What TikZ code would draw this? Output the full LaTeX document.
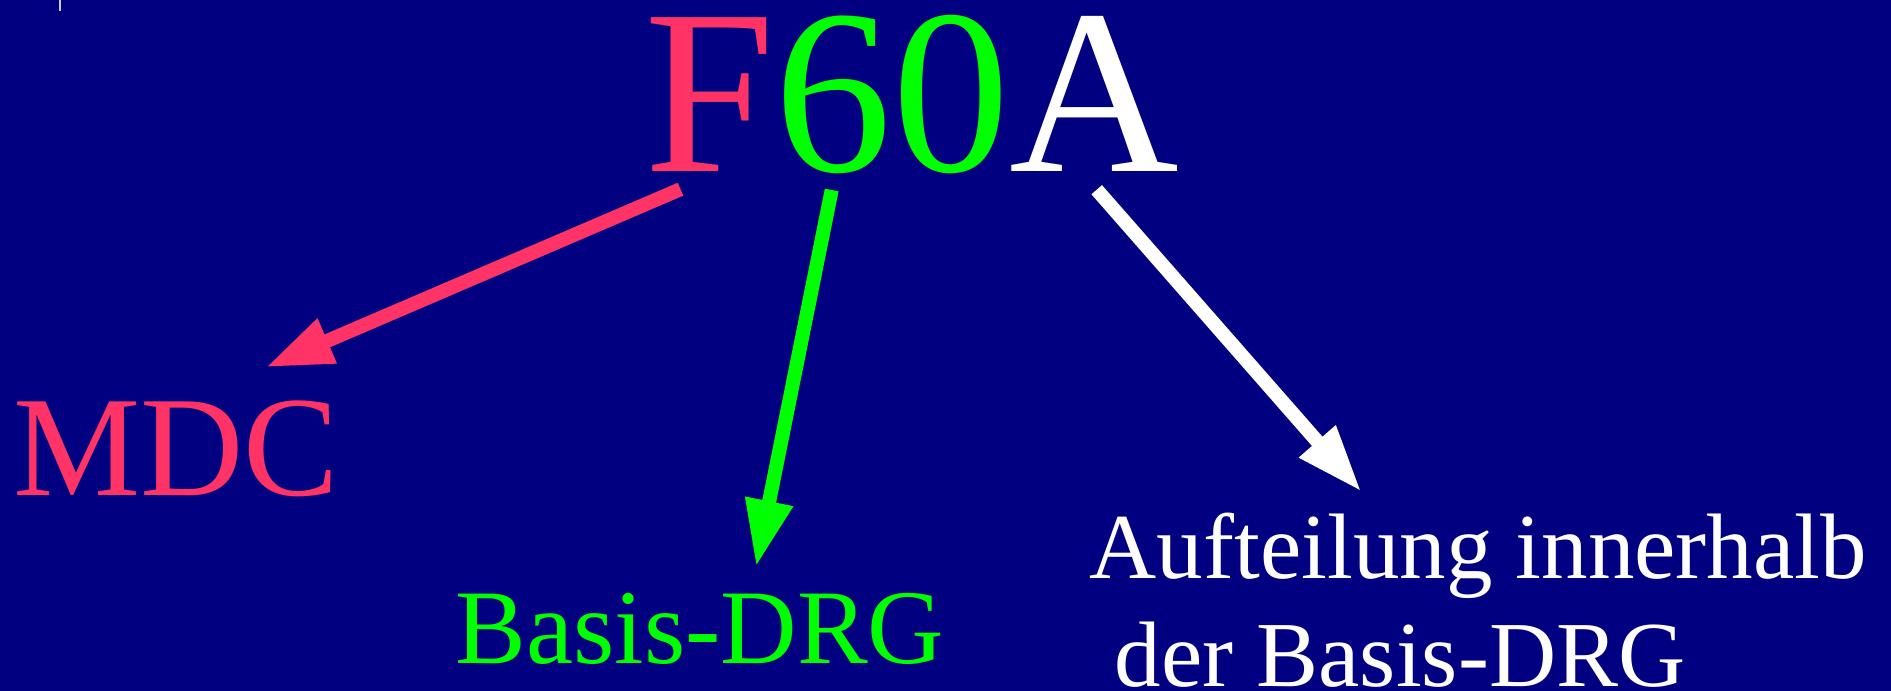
\documentclass[tikz,border=0pt]{standalone}
\usepackage{fontspec}
\setmainfont{Liberation Serif}
\usetikzlibrary{arrows.meta}

\definecolor{slidebg}{RGB}{0,0,128}
\definecolor{rosered}{RGB}{255,51,102}
\definecolor{brightgreen}{RGB}{0,255,0}
\definecolor{tickgray}{RGB}{205,205,235}

\tikzset{
  label/.style={anchor=base west, inner sep=0pt, outer sep=0pt},
  bigarrow/.style={line width=14pt, line cap=butt,
    -{Triangle[length=67pt,width=45pt]}},
}

\begin{document}
\begin{tikzpicture}[x=1pt, y=-1pt]
  % slide background
  \fill[slidebg] (0,0) rectangle (1891,691);
  \useasboundingbox (0,0) rectangle (1891,691);

  % small mark in the upper left corner
  \draw[tickgray, line width=2pt] (60,0) -- (60,11);

  % code and its parts
  \node[label, font=\fontsize{235}{235}\selectfont, text=white]
    (code) at (644,171) {\textcolor{rosered}{F}\textcolor{brightgreen}{60}A};

  \node[label, font=\fontsize{143}{143}\selectfont, text=rosered]
    (mdc) at (13.3,495) {MDC};

  \node[label, font=\fontsize{106}{106}\selectfont, text=brightgreen]
    (basis) at (455.6,663.3) {Basis-DRG};

  % two-line label; its base anchor sits on the last line
  \node[label, font=\fontsize{93}{108.4}\selectfont, text=white, align=left]
    (split) at (1089.6,686.7) {Aufteilung innerhalb\\\hspace*{0.27em}der Basis-DRG};

  % arrow ends
  \coordinate (fromF)  at (680.5,189.2);
  \coordinate (toMDC)  at (265.7,367.3);
  \coordinate (from60) at (831.7,190);
  \coordinate (toBasis) at (756,567);
  \coordinate (fromA)  at (1096.7,189.7);
  \coordinate (toSplit) at (1361.4,491.7);

  \draw[bigarrow, rosered] (fromF) -- (toMDC);
  \draw[bigarrow, brightgreen] (from60) -- (toBasis);
  \draw[bigarrow, white] (fromA) -- (toSplit);
\end{tikzpicture}
\end{document}
